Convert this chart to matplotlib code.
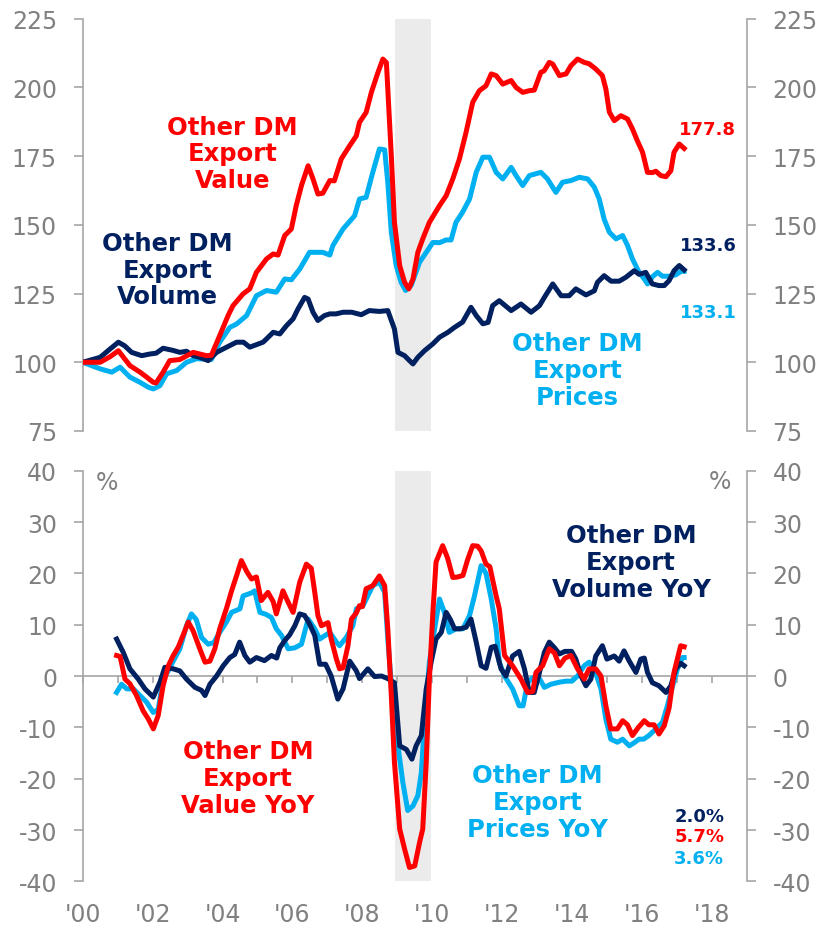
import matplotlib
matplotlib.use("Agg")
import matplotlib.pyplot as plt

plt.rcParams['font.family'] = ['DejaVu Sans']
plt.rcParams['axes.unicode_minus'] = False

# Colours
RED = '#FF0000'
NAVY = '#002060'
BLUE = '#00B0F0'
GREY = '#808080'
SPINE = '#A6A6A6'
BAND = '#EBEBEB'

# ---- Top panel: index levels (2000 = 100) ----
value_t = [2000.0, 2000.5, 2000.78, 2001.02, 2001.35, 2001.64, 2001.83, 2002.02, 2002.1, 2002.3,
           2002.49, 2002.78, 2003.16, 2003.54, 2003.68, 2003.92, 2004.16, 2004.3, 2004.59, 2004.78,
           2004.97, 2005.26, 2005.45, 2005.59, 2005.78, 2005.97, 2006.11, 2006.26, 2006.45, 2006.59,
           2006.73, 2006.87, 2007.07, 2007.2, 2007.4, 2007.64, 2007.83, 2007.92, 2008.11, 2008.26,
           2008.45, 2008.59, 2008.69, 2008.73, 2008.83, 2008.92, 2009.07, 2009.21, 2009.33, 2009.45,
           2009.59, 2009.73, 2009.92, 2010.21, 2010.4, 2010.59, 2010.78, 2010.97, 2011.16, 2011.35,
           2011.54, 2011.69, 2011.83, 2012.02, 2012.26, 2012.4, 2012.59, 2012.78, 2012.92, 2013.11,
           2013.2, 2013.35, 2013.45, 2013.64, 2013.83, 2013.97, 2014.16, 2014.35, 2014.49, 2014.68,
           2014.87, 2014.97, 2015.07, 2015.21, 2015.4, 2015.59, 2015.73, 2015.87, 2016.02, 2016.16,
           2016.3, 2016.4, 2016.54, 2016.69, 2016.83, 2016.92, 2017.07, 2017.21]
value_v = [100, 100, 102, 104.2, 98.8, 96.4, 94.6, 92.7, 92.5, 96.4,
           100.6, 101, 103.6, 102.4, 102.5, 109.7, 117, 120.6, 124.9, 126.7,
           132.7, 137.6, 139.4, 139, 146.1, 148.5, 157, 164.3, 171.5, 166.7,
           161.2, 161.5, 166.1, 166, 174, 178.8, 182.4, 187.3, 190.9, 198.2,
           205.5, 210.3, 209, 199.4, 175.2, 150.9, 135.2, 129.1, 126.7, 130.3,
           140, 144.9, 150.9, 157, 160.6, 166.7, 174, 183.7, 194.6, 198.8,
           200.6, 204.9, 204.3, 201.2, 202.5, 200, 198.2, 198.8, 199, 205.5,
           206, 209.1, 208.5, 204.3, 204.9, 207.9, 210.3, 209.1, 208.6, 206.7,
           204.3, 199.4, 191, 187.9, 189.7, 188.5, 184.9, 180.6, 176.4, 169.1,
           169, 169.5, 167.9, 167.5, 169.7, 176.4, 179.4, 177.8]

prices_t = [2000.0, 2000.5, 2000.83, 2001.07, 2001.35, 2001.64, 2001.88, 2002.02, 2002.21, 2002.4,
            2002.69, 2002.97, 2003.26, 2003.68, 2003.92, 2004.21, 2004.4, 2004.69, 2004.97, 2005.26,
            2005.54, 2005.78, 2005.97, 2006.21, 2006.49, 2006.87, 2007.07, 2007.16, 2007.45, 2007.78,
            2007.92, 2008.11, 2008.3, 2008.49, 2008.64, 2008.73, 2008.83, 2008.97, 2009.11, 2009.24,
            2009.4, 2009.64, 2009.83, 2010.02, 2010.21, 2010.4, 2010.54, 2010.68, 2010.87, 2011.07,
            2011.26, 2011.45, 2011.64, 2011.83, 2012.02, 2012.26, 2012.4, 2012.59, 2012.78, 2013.11,
            2013.3, 2013.54, 2013.73, 2013.97, 2014.21, 2014.45, 2014.64, 2014.78, 2014.92, 2015.07,
            2015.26, 2015.45, 2015.59, 2015.73, 2015.92, 2016.07, 2016.16, 2016.3, 2016.45, 2016.59,
            2016.78, 2016.97, 2017.11, 2017.21]
prices_v = [100, 97.6, 96.4, 98.2, 94.6, 92.7, 90.9, 90.3, 91.5, 95.8,
            97, 100, 101.3, 101, 107.3, 112.7, 113.9, 117, 124.2, 126.1,
            125.5, 130.3, 130, 133.9, 140, 140, 139, 142.5, 148.5, 153.3,
            159.4, 160, 169.1, 177.6, 177.3, 165.5, 147.3, 135.2, 129.1, 126.1,
            128, 136.4, 140, 143.6, 143.5, 144.5, 144.5, 150.9, 154.6, 159.4,
            169.1, 174.6, 174.6, 169.1, 166.7, 170.9, 167.9, 164.3, 167.9, 169.1,
            166.7, 161.8, 165.5, 166.1, 167.3, 166.7, 163.7, 159.4, 152.1, 147.3,
            144.9, 146.1, 142.5, 137.6, 132.7, 130.3, 128.5, 131.1, 132.7, 131.3,
            131.3, 131.8, 133, 133.1]

volume_t = [2000.0, 2000.5, 2000.78, 2001.02, 2001.2, 2001.4, 2001.69, 2001.92, 2002.1, 2002.3,
            2002.59, 2002.78, 2002.97, 2003.16, 2003.35, 2003.59, 2003.83, 2004.12, 2004.4, 2004.6,
            2004.78, 2005.16, 2005.26, 2005.45, 2005.64, 2005.83, 2006.02, 2006.16, 2006.35, 2006.45,
            2006.59, 2006.73, 2006.92, 2007.07, 2007.25, 2007.45, 2007.7, 2007.97, 2008.2, 2008.49,
            2008.73, 2008.92, 2009.02, 2009.21, 2009.35, 2009.45, 2009.59, 2009.78, 2010.02, 2010.21,
            2010.45, 2010.64, 2010.87, 2011.11, 2011.26, 2011.45, 2011.6, 2011.73, 2011.92, 2012.26,
            2012.54, 2012.83, 2013.07, 2013.21, 2013.45, 2013.69, 2013.92, 2014.11, 2014.4, 2014.64,
            2014.73, 2014.92, 2015.12, 2015.35, 2015.54, 2015.78, 2015.92, 2016.11, 2016.3, 2016.49,
            2016.64, 2016.78, 2016.92, 2017.07, 2017.21]
volume_v = [100, 101.8, 104.8, 107.3, 106, 103.6, 102.4, 103, 103.3, 105.1,
            104.3, 103.6, 104, 102.4, 101.8, 100.6, 103.6, 105.5, 107.3, 107.3,
            105.5, 107.3, 108.5, 110.9, 110.3, 113.3, 115.8, 119.4, 123.6, 123,
            118.2, 115.2, 117, 117.6, 117.6, 118.2, 118.2, 117.3, 118.8, 118.5,
            118.8, 112.1, 103.6, 102.4, 100.6, 99.4, 101.8, 104.2, 106.7, 109.1,
            110.9, 112.7, 114.6, 120, 117, 114, 114.5, 120.6, 122.4, 118.8,
            121.2, 118.2, 120.6, 123.6, 128.5, 124.2, 124.2, 126.7, 124.5, 126,
            129.1, 131.5, 129.5, 129.5, 130.9, 133.3, 132, 132.7, 128.5, 127.9,
            127.9, 129.7, 133.3, 135.2, 133.6]

# ---- Bottom panel: year-on-year % ----
volyoy_t = [2000.97, 2001.16, 2001.35, 2001.59, 2001.78, 2002.02, 2002.21, 2002.35, 2002.59, 2002.78,
            2002.97, 2003.21, 2003.4, 2003.5, 2003.64, 2003.83, 2004.02, 2004.21, 2004.35, 2004.49,
            2004.64, 2004.78, 2004.97, 2005.2, 2005.4, 2005.55, 2005.64, 2005.78, 2005.92, 2006.07,
            2006.21, 2006.35, 2006.5, 2006.64, 2006.78, 2006.95, 2007.11, 2007.3, 2007.45, 2007.64,
            2007.83, 2007.92, 2008.16, 2008.35, 2008.55, 2008.73, 2008.92, 2009.07, 2009.26, 2009.42,
            2009.54, 2009.69, 2009.83, 2009.97, 2010.11, 2010.26, 2010.4, 2010.52, 2010.64, 2010.8,
            2010.97, 2011.11, 2011.26, 2011.4, 2011.54, 2011.69, 2011.8, 2011.97, 2012.11, 2012.3,
            2012.49, 2012.64, 2012.78, 2012.92, 2013.07, 2013.21, 2013.35, 2013.5, 2013.64, 2013.8,
            2013.99, 2014.11, 2014.26, 2014.4, 2014.54, 2014.68, 2014.87, 2015.0, 2015.21, 2015.35,
            2015.49, 2015.64, 2015.83, 2015.97, 2016.07, 2016.16, 2016.3, 2016.49, 2016.69, 2016.83,
            2016.97, 2017.11, 2017.21]
volyoy_v = [7.2, 4.6, 1.4, -0.6, -2.5, -4.1, -1.2, 1.7, 1.4, 1.0,
            -0.6, -2.2, -2.8, -3.8, -1.6, 0, 2, 3.6, 4.2, 6.6,
            4, 2.7, 3.6, 3, 4, 3.5, 5.5, 6.9, 8, 9.8,
            12.1, 11.8, 10, 7.9, 2.3, 2.3, 0, -4.5, -2.5, 2.9,
            1, -0.5, 1.4, -0.1, 0, -0.5, -1.3, -13.6, -14.3, -16.2,
            -13.6, -11.6, -2.5, 2.7, 7.2, 8.5, 12.4, 11, 9.2, 9.2,
            9.5, 11.1, 6.6, 2, 1.5, 5.6, 5.8, 1.4, 0, 3.9,
            4.8, 1.4, -3.2, -3.2, 0.7, 4.6, 6.6, 5.5, 4.3, 4.8,
            4.8, 3.3, 0, -1.9, -0.6, 3.9, 5.9, 3.3, 3.9, 2.9,
            4.9, 2.9, 0.7, 3.3, 3.5, 0.7, -1.3, -1.9, -3.2, -1.9,
            1.4, 2.5, 2.0]

valyoy_t = [2000.97, 2001.07, 2001.21, 2001.35, 2001.54, 2001.73, 2001.88, 2002.02, 2002.16, 2002.3,
            2002.45, 2002.59, 2002.73, 2002.87, 2003.02, 2003.16, 2003.35, 2003.5, 2003.64, 2003.78,
            2003.92, 2004.11, 2004.26, 2004.4, 2004.54, 2004.69, 2004.83, 2004.97, 2005.11, 2005.3,
            2005.45, 2005.54, 2005.73, 2005.87, 2006.02, 2006.21, 2006.4, 2006.54, 2006.64, 2006.73,
            2006.83, 2007.02, 2007.11, 2007.26, 2007.35, 2007.45, 2007.59, 2007.69, 2007.83, 2007.92,
            2008.0, 2008.11, 2008.3, 2008.49, 2008.64, 2008.73, 2008.83, 2008.92, 2009.07, 2009.21,
            2009.35, 2009.5, 2009.64, 2009.73, 2009.83, 2009.92, 2010.02, 2010.11, 2010.3, 2010.44,
            2010.59, 2010.73, 2010.88, 2011.02, 2011.16, 2011.3, 2011.4, 2011.54, 2011.65, 2011.83,
            2011.92, 2012.07, 2012.3, 2012.54, 2012.73, 2012.88, 2012.97, 2013.16, 2013.35, 2013.5,
            2013.64, 2013.8, 2013.97, 2014.16, 2014.35, 2014.49, 2014.68, 2014.83, 2014.97, 2015.11,
            2015.3, 2015.45, 2015.59, 2015.73, 2015.9, 2016.07, 2016.2, 2016.35, 2016.49, 2016.64,
            2016.78, 2016.92, 2017.11, 2017.21]
valyoy_v = [4, 3.8, -0.6, -1.5, -3.8, -6.8, -8.4, -10.3, -7.7, -1.9,
            2, 4, 5.6, 7.9, 10.5, 8.8, 5.3, 2.7, 2.9, 5.3,
            9.2, 13.1, 16.6, 19.5, 22.5, 20.4, 18.9, 19.3, 14.7, 16.3,
            14.5, 12.1, 16.6, 14.5, 12.4, 18.3, 21.8, 21, 16.3, 11.8,
            9.8, 10.4, 7.2, 3.3, 1.4, 1.6, 5.9, 11.1, 12.3, 13.7,
            13.5, 17, 17.6, 19.5, 17.6, 9.2, -3.8, -16.8, -29.8, -33.7,
            -37.3, -37, -32.4, -29.8, -16.8, -0.6, 12.4, 22.2, 25.4, 23,
            19.2, 19.3, 19.6, 22.8, 25.4, 25.3, 24.4, 21.8, 21.3, 15.6,
            13.1, 4, 2, -0.6, -3.2, -3, 0.7, 2, 5.3, 4.5,
            2, 3.5, 4, 1.4, -0.6, 1.4, 1.4, 0, -5.8, -10.3,
            -10.3, -8.7, -9.5, -11.6, -10, -8.7, -9.5, -9.5, -11.3, -9.7,
            -6.2, 0.7, 5.9, 5.7]

priyoy_t = [2000.97, 2001.11, 2001.26, 2001.45, 2001.64, 2001.83, 2002.02, 2002.16, 2002.3, 2002.45,
            2002.59, 2002.78, 2002.97, 2003.11, 2003.25, 2003.4, 2003.59, 2003.75, 2003.92, 2004.11,
            2004.26, 2004.5, 2004.59, 2004.83, 2004.92, 2005.07, 2005.25, 2005.4, 2005.54, 2005.69,
            2005.88, 2006.07, 2006.26, 2006.45, 2006.64, 2006.78, 2007.07, 2007.26, 2007.35, 2007.54,
            2007.73, 2007.83, 2008.02, 2008.15, 2008.3, 2008.49, 2008.64, 2008.73, 2008.87, 2009.02,
            2009.16, 2009.3, 2009.45, 2009.59, 2009.69, 2009.78, 2009.92, 2010.07, 2010.21, 2010.35,
            2010.49, 2010.68, 2010.88, 2011.07, 2011.21, 2011.4, 2011.54, 2011.69, 2011.83, 2011.92,
            2012.07, 2012.3, 2012.49, 2012.6, 2012.73, 2012.88, 2013.07, 2013.21, 2013.4, 2013.64,
            2013.83, 2014.0, 2014.16, 2014.35, 2014.49, 2014.64, 2014.83, 2014.97, 2015.11, 2015.3,
            2015.45, 2015.64, 2015.78, 2015.92, 2016.05, 2016.2, 2016.4, 2016.59, 2016.73, 2016.88,
            2017.02, 2017.16, 2017.21]
priyoy_v = [-3.2, -1.6, -2.5, -2.5, -3.8, -5.1, -7.1, -6.5, -0.6, 1.0,
            2.9, 5.3, 9.8, 12.1, 11, 7.5, 6.2, 6.5, 8.5, 10.5,
            12.4, 13.1, 15.6, 16.2, 16.6, 12.4, 12, 11.4, 9.2, 7.9,
            5.3, 5.5, 6.2, 11.1, 9.2, 7.2, 8.5, 6.6, 5.9, 7.5,
            9.8, 13.1, 13.7, 15.5, 17.6, 18.3, 16.3, 7.2, -5.1, -13.6,
            -20.7, -26.2, -25.3, -23.3, -18.8, -9, 2.7, 9.2, 15, 12.4,
            8.5, 9.2, 9.2, 11.8, 15.6, 21.5, 20, 15, 9.2, 2.7,
            0, -2.5, -5.8, -5.8, -1.3, -0.3, -0.5, -2.2, -1.6, -1.2,
            -1, -1, 0, 2, 2.7, 1.4, -2.5, -8.4, -12.3, -12.9,
            -12.3, -13.6, -13, -12.3, -12.3, -11.6, -10.3, -9, -5.8, -1.9,
            1.4, 3.6, 3.6]

year_labels = ["'00", "'02", "'04", "'06", "'08", "'10", "'12", "'14", "'16", "'18"]
recession = (2008.95, 2009.97)

# Figure
fig = plt.figure(figsize=(8.23, 9.28), dpi=100)
ax1 = fig.add_axes([0.1005, 0.5345, 0.8068, 0.4443])
ax2 = fig.add_axes([0.1005, 0.0492, 0.8068, 0.4425])

lw = 3.6
for ax in (ax1, ax2):
    ax.axvspan(recession[0], recession[1], color=BAND, zorder=0, lw=0)
    ax.set_xlim(2000, 2019)
    ax.spines['top'].set_visible(False)
    for side in ('left', 'right'):
        ax.spines[side].set_color(SPINE)
        ax.spines[side].set_linewidth(1.2)
    ax.tick_params(axis='y', which='both', left=True, right=True, labelleft=True, labelright=True,
                   direction='out', length=6.5, width=1.2, color=SPINE, labelsize=17,
                   labelcolor=GREY, pad=12)

# Top panel
ax1.plot(prices_t, prices_v, color=BLUE, lw=lw, zorder=2, solid_joinstyle='round')
ax1.plot(volume_t, volume_v, color=NAVY, lw=lw, zorder=3, solid_joinstyle='round')
ax1.plot(value_t, value_v, color=RED, lw=lw, zorder=4, solid_joinstyle='round')
ax1.set_ylim(75, 225)
ax1.set_yticks(range(75, 226, 25))
ax1.spines['bottom'].set_visible(False)
ax1.set_xticks([])

big = dict(fontsize=17.5, fontweight='bold', ha='center', va='center', linespacing=1.15)
ax1.text(2004.29, 176, 'Other DM\nExport\nValue', color=RED, **big)
ax1.text(2002.43, 133.7, 'Other DM\nExport\nVolume', color=NAVY, **big)
ax1.text(2014.16, 97.3, 'Other DM\nExport\nPrices', color=BLUE, **big)

small = dict(fontsize=13, fontweight='bold', ha='center', va='center')
ax1.text(2017.89, 184.9, f'{value_v[-1]:.1f}', color=RED, **small)
ax1.text(2017.89, 142.7, f'{volume_v[-1]:.1f}', color=NAVY, **small)
ax1.text(2017.89, 118.4, f'{prices_v[-1]:.1f}', color=BLUE, **small)

# Bottom panel
ax2.plot(priyoy_t, priyoy_v, color=BLUE, lw=lw, zorder=2, solid_joinstyle='round')
ax2.plot(volyoy_t, volyoy_v, color=NAVY, lw=lw, zorder=3, solid_joinstyle='round')
ax2.plot(valyoy_t, valyoy_v, color=RED, lw=lw, zorder=4, solid_joinstyle='round')
ax2.set_ylim(-40, 40)
ax2.set_yticks(range(-40, 41, 10))

# zero line with yearly ticks
ax2.spines['bottom'].set_position(('data', 0))
ax2.spines['bottom'].set_color(SPINE)
ax2.spines['bottom'].set_linewidth(1.2)
ax2.spines['bottom'].set_zorder(1)
ax2.set_xticks(range(2000, 2019))
ax2.tick_params(axis='x', direction='out', length=5, width=1.2, color=SPINE, labelbottom=False)

# year labels at the bottom
sec = ax2.secondary_xaxis(0)
sec.set_xticks(range(2000, 2019, 2), year_labels)
sec.spines['bottom'].set_visible(False)
sec.tick_params(axis='x', length=0, labelsize=17, labelcolor=GREY, pad=15)

ax2.text(2000.7, 37.8, '%', color=GREY, fontsize=17, ha='center', va='center')
ax2.text(2018.23, 37.9, '%', color=GREY, fontsize=17, ha='center', va='center')

ax2.text(2004.73, -19.9, 'Other DM\nExport\nValue YoY', color=RED, **big)
ax2.text(2015.69, 22.2, 'Other DM\nExport\nVolume YoY', color=NAVY, **big)
ax2.text(2013.02, -24.6, 'Other DM\nExport\nPrices YoY', color=BLUE, **big)

ax2.text(2017.64, -27.3, f'{volyoy_v[-1]:.1f}%', color=NAVY, **small)
ax2.text(2017.64, -31.1, f'{valyoy_v[-1]:.1f}%', color=RED, **small)
ax2.text(2017.64, -35.5, f'{priyoy_v[-1]:.1f}%', color=BLUE, **small)

fig.savefig('out.png', dpi=100)
